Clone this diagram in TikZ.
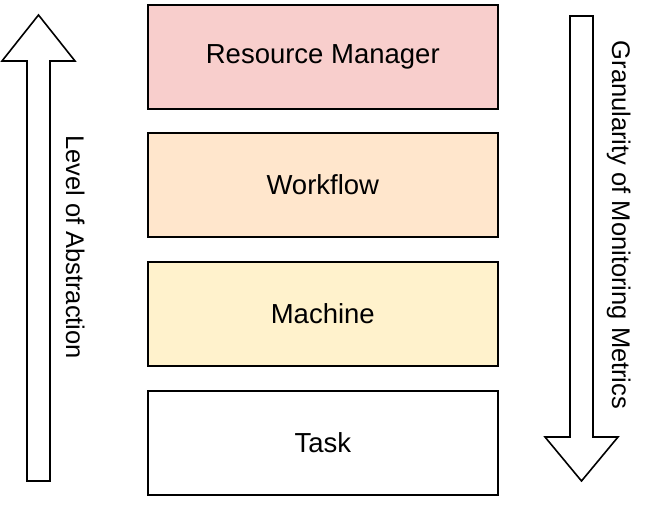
\documentclass[tikz,border=0pt]{standalone}
\usepackage{fontspec}
\setmainfont{Liberation Sans}
\definecolor{rmfill}{HTML}{F8CECC}
\definecolor{wffill}{HTML}{FFE6CC}
\definecolor{mafill}{HTML}{FFF2CC}
\begin{document}
\begin{tikzpicture}[x=1pt,y=1pt,
  layer/.style={draw=black,line width=1.6pt,minimum width=350pt,minimum height=104pt,inner sep=0pt,
    font=\fontsize{27.5}{32}\selectfont,anchor=north west},
  bigarrow/.style={draw=black,line width=1.6pt,fill=white,line join=miter},
  vlabel/.style={rotate=-90,anchor=base,inner sep=0pt,font=\fontsize{25.5}{30}\selectfont}]
\useasboundingbox (0,0) rectangle (664,505);
\node[layer,fill=rmfill] (rm) at (147,501) {Resource Manager};
\node[layer,fill=wffill] (wf) at (147,373) {Workflow};
\node[layer,fill=mafill] (ma) at (147,244) {Machine};
\node[layer,fill=white] (task) at (147,115) {Task};
% left up arrow
\draw[bigarrow] (27,24) -- (27,444) -- (2,444) -- (38.5,490) -- (75,444) -- (50,444) -- (50,24) -- cycle;
% right down arrow
\draw[bigarrow] (570,489) -- (570,68) -- (545,68) -- (581.5,24) -- (618,68) -- (593,68) -- (593,489) -- cycle;
\node[vlabel] (loa) at (66,258) {Level of Abstraction};
\node[vlabel] (gmm) at (612,280) {Granularity of Monitoring Metrics};
\end{tikzpicture}
\end{document}
